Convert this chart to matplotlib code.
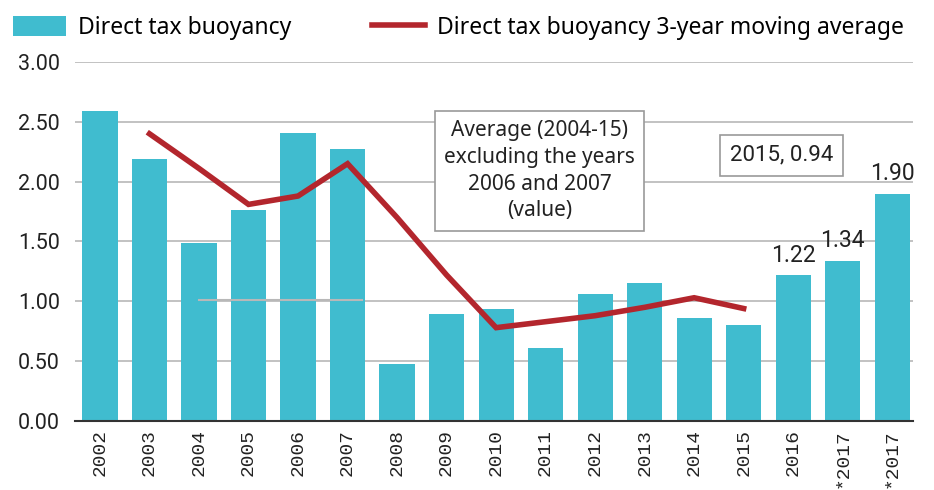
import matplotlib.pyplot as plt
import numpy as np

years = ['2002', '2003', '2004', '2005', '2006', '2007', '2008', '2009', '2010',
         '2011', '2012', '2013', '2014', '2015', '2016', '*2017', '*2017']
buoyancy = [2.59, 2.19, 1.49, 1.76, 2.41, 2.27, 0.48, 0.89, 0.94,
            0.61, 1.06, 1.15, 0.86, 0.80, 1.22, 1.34, 1.90]
# 3-year moving average, 2003..2015
ma_years = years[1:14]
moving_avg = [2.40, 2.11, 1.81, 1.88, 2.15, 1.70, 1.22, 0.78, 0.83, 0.88, 0.95, 1.03, 0.94]
avg_value = 1.01          # average 2004-15 excl. 2006/2007
labelled = {14: '1.22', 15: '1.34', 16: '1.90'}

bar_col = '#40bccf'
line_col = '#b3262d'
font = ['Noto Sans', 'DejaVu Sans']

plt.rcParams['font.family'] = font
fig = plt.figure(figsize=(9.34, 4.9), dpi=100)
ax = fig.add_axes([0.0803, 0.1408, 0.8972, 0.7327])

x = np.arange(len(years))
bars = ax.bar(x, buoyancy, width=0.71, color=bar_col, zorder=2,
              label='Direct tax buoyancy')
ma_line, = ax.plot(x[1:14], moving_avg, color=line_col, lw=4, zorder=4,
                   solid_joinstyle='miter',
                   label='Direct tax buoyancy 3-year moving average')
# average line (2004-15 excluding 2006 & 2007)
ax.plot([2, 5.3], [avg_value, avg_value], color='#b8b8b8', lw=1.5, zorder=3)

for i, txt in labelled.items():
    ax.text(x[i], buoyancy[i] + 0.07, txt, ha='center', va='bottom',
            fontsize=16.5, color='#222222', family=['Roboto', 'DejaVu Sans'])

ax.text(8.88, 2.09, 'Average (2004-15)\nexcluding the years\n2006 and 2007\n(value)',
        ha='center', va='center', fontsize=15, color='#222222', linespacing=1.35,
        zorder=5,
        bbox=dict(boxstyle='square,pad=0.45', fc='white', ec='#999999', lw=1.2))
ax.text(13.77, 2.22, '2015, 0.94', ha='center', va='center', fontsize=16,
        color='#222222', family=['Roboto', 'DejaVu Sans'], zorder=5,
        bbox=dict(boxstyle='square,pad=0.45', fc='white', ec='#999999', lw=1.2))

ax.set_xlim(-0.505, 16.42)
ax.set_ylim(0, 3.0)
ax.set_yticks(np.arange(0, 3.01, 0.5))
ax.set_yticklabels([f'{v:.2f}' for v in np.arange(0, 3.01, 0.5)],
                   fontsize=15.5, color='#222222', family=['Roboto', 'DejaVu Sans'])
ax.set_xticks(x)
ax.set_xticklabels(years, rotation=90, fontsize=14, color='#222222',
                   family=['Liberation Mono', 'DejaVu Sans Mono'])
ax.tick_params(axis='both', length=0, pad=6)
ax.tick_params(axis='y', pad=11)
ax.grid(axis='y', color='#bdbdbd', lw=1.3, zorder=0)
ax.set_axisbelow(True)
for s in ['left', 'right', 'top']:
    ax.spines[s].set_visible(False)
ax.spines['bottom'].set_color('#333333')
ax.spines['bottom'].set_linewidth(1.5)
ax.spines['bottom'].set_zorder(6)

ax.legend(handles=[bars, ma_line], ncol=2, frameon=False, fontsize=16.5,
          loc='upper left', bbox_to_anchor=(0.014, 0.968),
          bbox_transform=fig.transFigure, handlelength=2.3, handleheight=1.0,
          handletextpad=0.55, columnspacing=3.5, borderaxespad=0, borderpad=0)

fig.savefig('out.png', dpi=100)
